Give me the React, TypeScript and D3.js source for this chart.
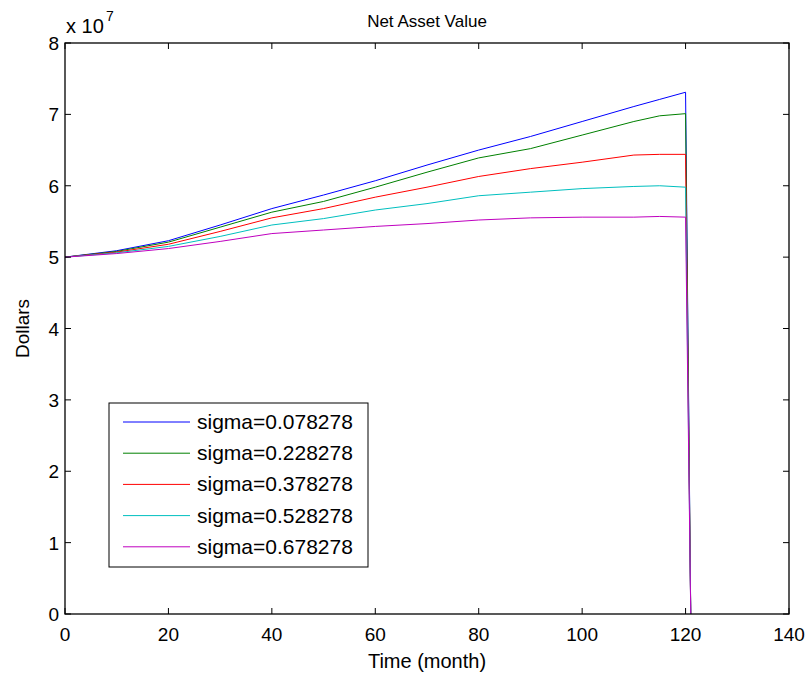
import * as d3 from "d3";

// months (values in units of 1e7 dollars)
const months = [0, 10, 20, 30, 40, 50, 60, 70, 80, 90, 100, 110, 115, 120, 121];

const sigmaLabels = [
    "sigma=0.078278",
    "sigma=0.228278",
    "sigma=0.378278",
    "sigma=0.528278",
    "sigma=0.678278",
];

const blueValues = [5.0, 5.09, 5.23, 5.45, 5.68, 5.87, 6.07, 6.29, 6.5, 6.69, 6.9, 7.11, 7.21, 7.31, 0];
const greenValues = [5.0, 5.08, 5.21, 5.42, 5.63, 5.78, 5.98, 6.19, 6.39, 6.52, 6.71, 6.9, 6.98, 7.01, 0];
const redValues = [5.0, 5.07, 5.18, 5.36, 5.55, 5.68, 5.84, 5.98, 6.13, 6.24, 6.33, 6.43, 6.44, 6.44, 0];
const cyanValues = [5.0, 5.06, 5.15, 5.29, 5.45, 5.54, 5.66, 5.75, 5.86, 5.91, 5.96, 5.99, 6.0, 5.98, 0];
const magentaValues = [5.0, 5.05, 5.12, 5.22, 5.33, 5.38, 5.43, 5.47, 5.52, 5.55, 5.56, 5.56, 5.57, 5.56, 0];

const seriesValues = [blueValues, greenValues, redValues, cyanValues, magentaValues];
const seriesColors = ["#0000ff", "#008000", "#ff0000", "#00bfbf", "#bf00bf"];

const xTicks = [0, 20, 40, 60, 80, 100, 120, 140];
const yTicks = [0, 1, 2, 3, 4, 5, 6, 7, 8];

const W = 810;
const H = 675;
const left = 65, right = 789, top = 43, bottom = 614;
const font = "'Liberation Sans', Arial, Helvetica, sans-serif";

export default function App() {
    const x = d3.scaleLinear().domain([0, 140]).range([left, right]);
    const y = d3.scaleLinear().domain([0, 8]).range([bottom, top]);

    const line = d3.line<number>()
        .x((_, i) => x(months[i]))
        .y(d => y(d));

    const tickLen = 6;

    return (
        <svg width={W} height={H} style={{ position: "absolute", left: 0, top: 0, background: "#fff" }}
             fontFamily={font}>
            <rect x={0} y={0} width={W} height={H} fill="#fff" />

            {/* series */}
            <g fill="none" strokeWidth={1}>
                {seriesValues.map((vals, i) => (
                    <path key={i} d={line(vals) || ""} stroke={seriesColors[i]} />
                ))}
            </g>

            {/* axes box */}
            <rect x={left} y={top} width={right - left} height={bottom - top}
                  fill="none" stroke="#000" strokeWidth={1.3} />

            {/* x ticks */}
            {xTicks.map(t => (
                <g key={"x" + t}>
                    <line x1={x(t)} x2={x(t)} y1={bottom} y2={bottom - tickLen} stroke="#000" />
                    <line x1={x(t)} x2={x(t)} y1={top} y2={top + tickLen} stroke="#000" />
                    <text x={x(t)} y={bottom + 27} textAnchor="middle" fontSize={19}>{t}</text>
                </g>
            ))}

            {/* y ticks */}
            {yTicks.map(t => (
                <g key={"y" + t}>
                    <line x1={left} x2={left + tickLen} y1={y(t)} y2={y(t)} stroke="#000" />
                    <line x1={right} x2={right - tickLen} y1={y(t)} y2={y(t)} stroke="#000" />
                    <text x={left - 6} y={y(t) + 7} textAnchor="end" fontSize={19}>{t}</text>
                </g>
            ))}

            {/* exponent */}
            <text x={66} y={33} fontSize={20}>x 10</text>
            <text x={106} y={21} fontSize={14}>7</text>

            {/* title and labels */}
            <text x={(left + right) / 2} y={27} textAnchor="middle" fontSize={17}>Net Asset Value</text>
            <text x={(left + right) / 2} y={668} textAnchor="middle" fontSize={20}>Time (month)</text>
            <text transform={`translate(29,${(top + bottom) / 2}) rotate(-90)`} textAnchor="middle"
                  fontSize={19}>Dollars</text>

            {/* legend */}
            <rect x={109} y={403} width={259} height={164} fill="#fff" stroke="#000" strokeWidth={1} />
            {sigmaLabels.map((lab, i) => {
                const ry = 422 + i * 31.2;
                return (
                    <g key={lab}>
                        <line x1={123} x2={190} y1={ry} y2={ry} stroke={seriesColors[i]} strokeWidth={1} />
                        <text x={197} y={ry + 7} fontSize={21}>{lab}</text>
                    </g>
                );
            })}
        </svg>
    );
}
